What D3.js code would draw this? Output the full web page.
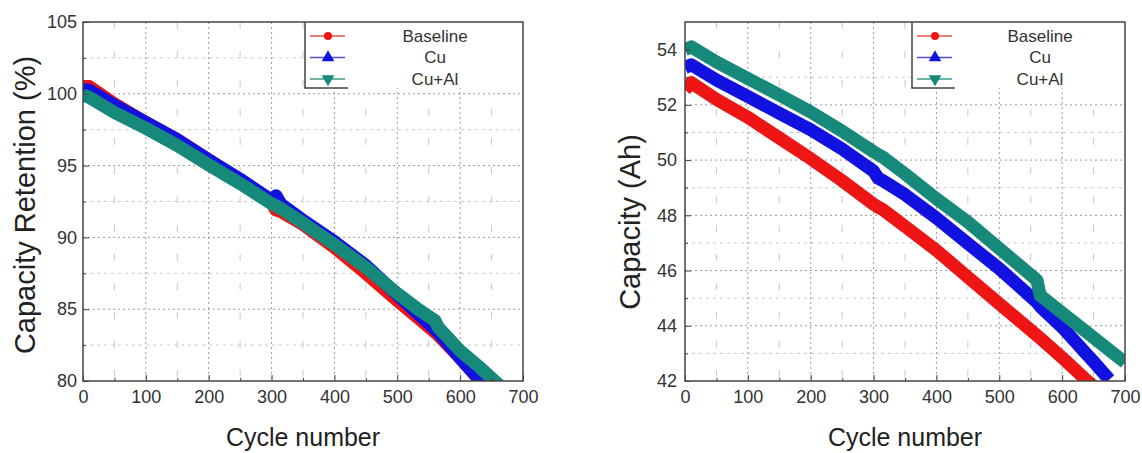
<!DOCTYPE html>
<html>
<head>
<meta charset="utf-8">
<script src="https://cdn.jsdelivr.net/npm/d3@7"></script>
<style>
  body { margin: 0; background: #fff; }
  svg { font-family: "Liberation Sans", Arial, sans-serif; }
  .tick text { fill: #333; font-size: 18px; }
  .domain { display: none; }
  .tick line { stroke: #444; }
</style>
</head>
<body>
<div id="chart"></div>
<script>
// legend / series names
const seriesNames = ["Baseline", "Cu", "Cu+Al"];
const seriesColors = ["#ee1515", "#1212e0", "#17897b"];
const legendColors = ["#e85050", "#5050c8", "#3a9a8c"];

// left panel: capacity retention (%)
const retCycles   = [0, 10, 50, 100, 150, 200, 250, 300, 307, 315, 350, 400, 450, 500, 530, 560, 565, 600, 630, 645, 665];
const retBaseline = [100.5, 100.5, 99.3, 98.0, 96.8, 95.4, 94.0, 92.4, 91.9, 91.8, 90.9, 89.3, 87.5, 85.6, 84.5, 83.4, 83.2, 81.6, 80.1, 79.4, null];
const retCu       = [100.3, 100.25, 99.2, 98.0, 96.8, 95.4, 94.05, 92.6, 92.9, 92.3, 91.2, 89.7, 88.05, 86.0, 84.8, 83.6, 83.4, 81.6, 80.15, 79.5, null];
const retCuAl     = [99.9, 99.75, 98.7, 97.6, 96.4, 95.05, 93.75, 92.35, 92.2, 92.0, 91.0, 89.5, 87.9, 86.1, 85.1, 84.2, 83.75, 82.1, 81.0, 80.4, 79.6];
const retTicks = [80, 85, 90, 95, 100, 105];

// right panel: capacity (Ah)
const capCycles   = [0, 10, 50, 100, 150, 200, 250, 300, 307, 315, 350, 400, 450, 500, 560, 565, 600, 640, 650, 675, 700];
const capBaseline = [52.55, 52.8, 52.2, 51.55, 50.8, 50.05, 49.25, 48.4, 48.3, 48.2, 47.6, 46.73, 45.76, 44.8, 43.65, 43.55, 42.85, 42.0, 41.8, null, null];
const capCu       = [53.35, 53.45, 52.9, 52.3, 51.7, 51.1, 50.4, 49.6, 49.35, 49.25, 48.75, 47.9, 46.98, 46.07, 44.85, 44.7, 43.95, 42.95, 42.7, 42.05, null];
const capCuAl     = [54.0, 54.1, 53.55, 52.95, 52.36, 51.74, 51.05, 50.3, 50.2, 50.1, 49.5, 48.6, 47.76, 46.8, 45.65, 45.1, 44.47, 43.75, 43.57, 43.12, 42.67];
const capTicks = [42, 44, 46, 48, 50, 52, 54];

const xTicks = [0, 100, 200, 300, 400, 500, 600, 700];

const svg = d3.select("#chart").append("svg")
  .attr("width", 1142)
  .attr("height", 453);

function drawPanel(opt) {
  const x = d3.scaleLinear().domain([0, 700]).range([opt.left, opt.right]);
  const y = d3.scaleLinear().domain(opt.yDomain).range([381, 22]);

  const g = svg.append("g");
  const clipId = "clip" + opt.id;
  svg.append("clipPath").attr("id", clipId)
    .append("rect")
    .attr("x", opt.left).attr("y", 22)
    .attr("width", opt.right - opt.left).attr("height", 359);

  // minor grid
  const xMinor = d3.range(50, 700, 100);
  const yMinor = opt.yMinor;
  g.selectAll(".vminor").data(xMinor).join("line")
    .attr("x1", d => x(d)).attr("x2", d => x(d))
    .attr("y1", 22).attr("y2", 381)
    .attr("stroke", "#c8c8c8").attr("stroke-dasharray", "7,22");
  g.selectAll(".hminor").data(yMinor).join("line")
    .attr("x1", opt.left).attr("x2", opt.right)
    .attr("y1", d => y(d)).attr("y2", d => y(d))
    .attr("stroke", "#c8c8c8").attr("stroke-dasharray", "3,4");

  // major grid
  g.selectAll(".vmajor").data(xTicks.slice(1, -1)).join("line")
    .attr("x1", d => x(d)).attr("x2", d => x(d))
    .attr("y1", 22).attr("y2", 381)
    .attr("stroke", "#999").attr("stroke-dasharray", "2,3");
  g.selectAll(".hmajor").data(opt.yTicks.slice(1, -1)).join("line")
    .attr("x1", opt.left).attr("x2", opt.right)
    .attr("y1", d => y(d)).attr("y2", d => y(d))
    .attr("stroke", "#999").attr("stroke-dasharray", "2,3");

  // curves
  const line = d3.line()
    .defined(d => d[1] != null)
    .x(d => x(d[0]))
    .y(d => y(d[1]));
  const curves = g.append("g").attr("clip-path", `url(#${clipId})`);
  opt.series.forEach((vals, i) => {
    curves.append("path")
      .datum(opt.cycles.map((c, k) => [c, vals[k]]))
      .attr("d", line)
      .attr("fill", "none")
      .attr("stroke", seriesColors[i])
      .attr("stroke-width", 13)
      .attr("stroke-linejoin", "round");
  });

  // axes
  g.append("g")
    .attr("transform", "translate(0,381)")
    .call(d3.axisBottom(x).tickValues(xTicks).tickSize(-6).tickPadding(9));
  g.append("g")
    .attr("transform", "translate(0,381)")
    .call(d3.axisBottom(x).tickValues(xMinor).tickSize(-3).tickFormat(""));
  g.append("g")
    .attr("transform", `translate(${opt.left},0)`)
    .call(d3.axisLeft(y).tickValues(opt.yTicks).tickSize(-6).tickPadding(opt.yPad));
  g.append("g")
    .attr("transform", `translate(${opt.left},0)`)
    .call(d3.axisLeft(y).tickValues(yMinor).tickSize(-3).tickFormat(""));

  // legend
  const lg = g.append("g");
  lg.append("rect")
    .attr("x", opt.legX).attr("y", 22)
    .attr("width", opt.right - opt.legX).attr("height", 66)
    .attr("fill", "#fff");
  lg.append("path")
    .attr("d", `M${opt.legX},22V88H${opt.legX + 43}`)
    .attr("fill", "none").attr("stroke", "#444").attr("stroke-width", 1.5);
  const rows = [36, 57.5, 79];
  const shapes = [d3.symbolCircle, d3.symbolTriangle, d3.symbolTriangle];
  seriesNames.forEach((name, i) => {
    lg.append("line")
      .attr("x1", opt.legX + 5).attr("x2", opt.legX + 40)
      .attr("y1", rows[i]).attr("y2", rows[i])
      .attr("stroke", legendColors[i]).attr("stroke-width", 1.5);
    lg.append("path")
      .attr("d", d3.symbol().type(shapes[i]).size(i == 0 ? 50 : 70)())
      .attr("transform", `translate(${opt.legX + 23},${rows[i]})` + (i == 2 ? " rotate(180)" : ""))
      .attr("fill", seriesColors[i]);
    lg.append("text")
      .attr("x", opt.legText).attr("y", rows[i])
      .attr("dy", "0.35em")
      .attr("text-anchor", "middle")
      .attr("font-size", 17)
      .attr("fill", "#333")
      .text(name);
  });

  // frame
  g.append("rect")
    .attr("x", opt.left).attr("y", 22)
    .attr("width", opt.right - opt.left).attr("height", 359)
    .attr("fill", "none").attr("stroke", "#444").attr("stroke-width", 1.5);

  // titles
  g.append("text")
    .attr("x", (opt.left + opt.right) / 2).attr("y", 437)
    .attr("dy", "0.35em")
    .attr("text-anchor", "middle")
    .attr("font-size", 25)
    .attr("fill", "#222")
    .text("Cycle number");
  g.append("text")
    .attr("transform", `translate(${opt.titleX},${opt.titleY}) rotate(-90)`)
    .attr("dy", "0.35em")
    .attr("text-anchor", "middle")
    .attr("font-size", 29)
    .attr("fill", "#222")
    .text(opt.title);
}

drawPanel({
  id: "ret", left: 83, right: 523,
  yDomain: [80, 105], yTicks: retTicks, yMinor: [82.5, 87.5, 92.5, 97.5, 102.5], yPad: 6,
  cycles: retCycles, series: [retBaseline, retCu, retCuAl],
  legX: 305, legText: 435,
  title: "Capacity Retention (%)", titleX: 25, titleY: 205
});

drawPanel({
  id: "cap", left: 685, right: 1125,
  yDomain: [42, 55], yTicks: capTicks, yMinor: [43, 45, 47, 49, 51, 53],
  yPad: 8,
  cycles: capCycles, series: [capBaseline, capCu, capCuAl],
  legX: 912, legText: 1040,
  title: "Capacity (Ah)", titleX: 630, titleY: 222
});
</script>
</body>
</html>
